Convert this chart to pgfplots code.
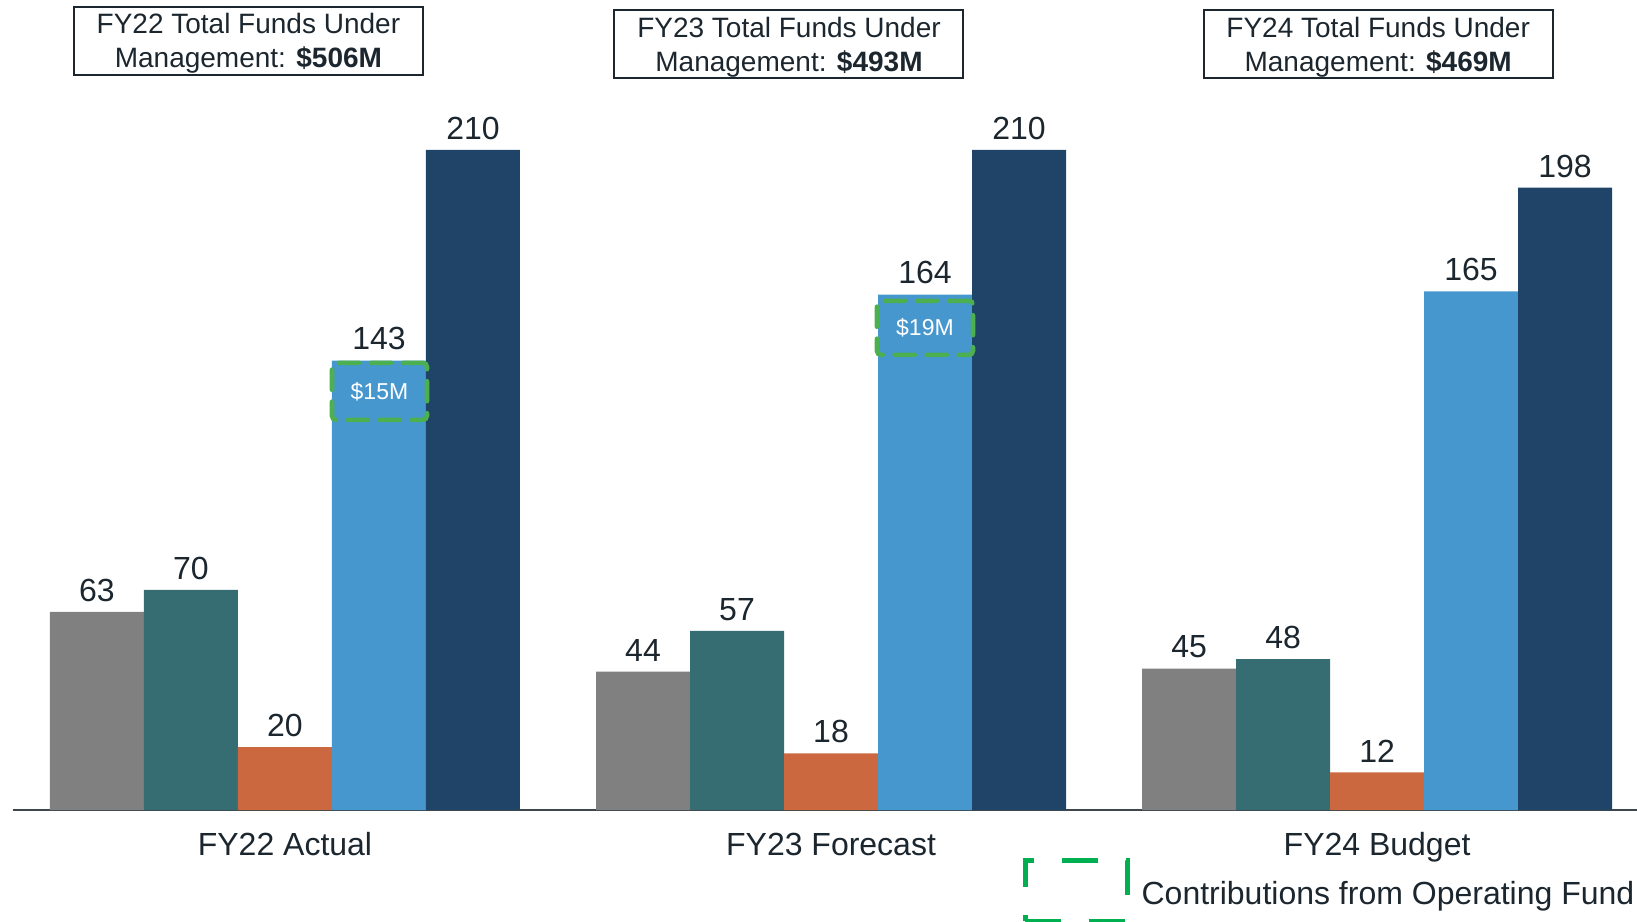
\documentclass[border=0pt]{standalone}
\usepackage{pgfplots}
\pgfplotsset{compat=1.18}
\usepackage{fontspec}
\setmainfont{Liberation Sans}
\definecolor{cgray}{RGB}{128,128,128}
\definecolor{cteal}{RGB}{54,109,115}
\definecolor{corange}{RGB}{204,104,64}
\definecolor{clblue}{RGB}{71,151,207}
\definecolor{cnavy}{RGB}{31,68,104}
\definecolor{ctext}{RGB}{28,38,46}
\definecolor{cdash}{RGB}{76,175,80}
\definecolor{clegend}{RGB}{0,176,80}
\begin{document}
\begin{tikzpicture}
\begin{axis}[
 at={(0pt,0pt)}, anchor=south west,
 scale only axis, width=812.25pt, height=405pt,
 xmin=-0.499, xmax=2.476, ymin=0, ymax=257.7,
 ybar=0pt, bar width=47pt,
 axis x line=bottom, axis y line=none,
 x axis line style={-, line width=1pt, color=ctext!85},
 xtick={0,1,2}, xticklabels={FY22 Actual, FY23 Forecast, FY24 Budget},
 major tick length=0pt,
 xticklabel style={anchor=base, yshift=-22.5pt, font=\fontsize{16}{19}\selectfont, text=ctext},
 ytick=\empty,
 clip=false,
 nodes near coords,
 every node near coord/.append style={font=\fontsize{16}{19}\selectfont, text=ctext, yshift=1.6pt},
 /pgf/number format/assume math mode=true,
]
\addplot[fill=cgray, draw=none] coordinates {(0,63) (1,44) (2,45)};
\addplot[fill=cteal, draw=none] coordinates {(0,70) (1,57) (2,48)};
\addplot[fill=corange, draw=none] coordinates {(0,20) (1,18) (2,12)};
\addplot[fill=clblue, draw=none] coordinates {(0,143) (1,164) (2,165)};
\addplot[fill=cnavy, draw=none] coordinates {(0,210) (1,210) (2,198)};

\tikzset{topbox/.style={draw=ctext, line width=1pt, minimum width=174.5pt, minimum height=34pt, inner sep=0pt},
 toptext/.style={inner sep=0pt, align=center, font=\fontsize{14}{17}\selectfont, text=ctext, yshift=-1.6pt}}
\node[topbox] at (axis cs:-0.067,244.8) {};
\node[toptext] at (axis cs:-0.067,244.8) {FY22 Total Funds Under\\Management: \textbf{\$506M}};
\node[topbox] at (axis cs:0.923,243.6) {};
\node[toptext] at (axis cs:0.923,243.6) {FY23 Total Funds Under\\Management: \textbf{\$493M}};
\node[topbox] at (axis cs:2.002,243.6) {};
\node[toptext] at (axis cs:2.002,243.6) {FY24 Total Funds Under\\Management: \textbf{\$469M}};

\tikzset{contrib/.style={draw=cdash, line width=2.3pt, dash pattern=on 10pt off 6pt, line cap=round, rounded corners=2pt, inner sep=0pt, text=white, font=\fontsize{11.5}{14}\selectfont}}
\node[contrib, minimum width=47.5pt, minimum height=28.5pt] at (axis cs:0.173,133.2) {\$15M};
\node[contrib, minimum width=48pt, minimum height=27pt] at (axis cs:1.172,153.4) {\$19M};

\node[draw=clegend, line width=2.4pt, dash pattern=on 18pt off 14pt, minimum width=51pt, minimum height=30.5pt, inner sep=0pt, anchor=north] at (axis cs:1.449,-15.3) {};
\node[anchor=base west, font=\fontsize{16}{19}\selectfont, text=ctext, inner sep=0pt] at (axis cs:1.568,-30.1) {Contributions from Operating Fund};
\end{axis}
\pgfresetboundingbox
\path[use as bounding box] (-6.25pt,-55.5pt) rectangle (812.25pt,405pt);
\end{tikzpicture}
\end{document}
